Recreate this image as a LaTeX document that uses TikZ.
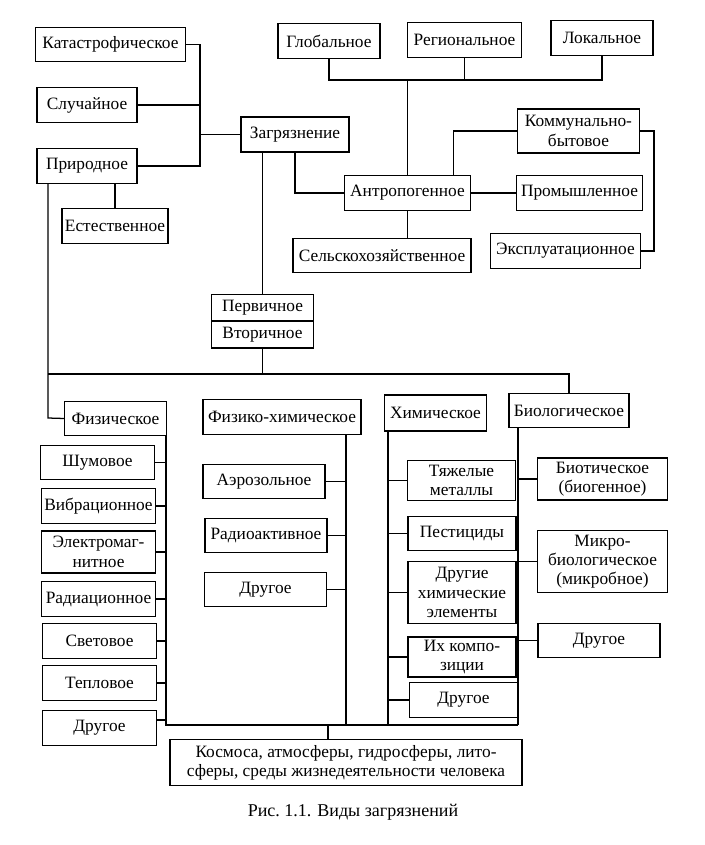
\documentclass[tikz,border=0pt]{standalone}
\usepackage{fontspec}
\setmainfont{Liberation Serif}
\usetikzlibrary{positioning}

\begin{document}
\begin{tikzpicture}[x=0.75pt,y=-0.75pt,line width=0.95pt,
	font=\fontsize{13}{14.5}\selectfont]
	\tikzstyle{box}=[draw=black,align=center,inner sep=1.5pt,minimum height=26pt]
	\tikzstyle{physbox}=[box,minimum width=86pt]
	\tikzstyle{fhbox}=[box,minimum width=91.5pt]
	\tikzstyle{chembox}=[box,minimum width=81pt]
	\tikzstyle{biobox}=[box,minimum width=98pt]
	\useasboundingbox (0,0) rectangle (704,845);

	% top part
	\node[box,minimum width=113pt] (kat) at (110.5,44.5) {Катастрофическое};
	\node[box,minimum width=75pt] (sluch) at (87,105) {Случайное};
	\node[box,minimum width=75pt] (prir) at (87,166) {Природное};
	\node[box,minimum width=79.5pt] (est) at (115,226) {Естественное};
	\node[box,minimum width=81pt,line width=1.6pt] (zagr) at (295,134.5) {Загрязнение};

	\node[box,minimum width=76.5pt] (glob) at (329,41) {Глобальное};
	\node[box,minimum width=86pt] (reg) at (464.5,40) {Региональное};
	\node[box,minimum width=76.5pt] (lok) at (602,38) {Локальное};

	\node[box,minimum width=94pt] (antr) at (407.5,193) {Антропогенное};
	\node[box,minimum width=133.5pt] (sel) at (382,255.5) {Сельскохозяйственное};
	\node[box,minimum width=92pt,minimum height=33pt] (kom) at (578.5,131) {Коммунально-\\бытовое};
	\node[box,minimum width=94pt] (prom) at (579.5,193) {Промышленное};
	\node[box,minimum width=113pt] (expl) at (565.5,251) {Эксплуатационное};

	\node[box,minimum width=76pt,minimum height=19pt] (perv) at (262.5,307.5) {Первичное};
	\node[box,minimum width=76pt,minimum height=20pt] (vtor) [below=0pt of perv] {Вторичное};

	% columns
	\node[box,minimum width=76pt] (fiz) at (115.5,418.5) {Физическое};
	\node[box,minimum width=118.5pt] (fizh) at (282,417) {Физико-химическое};
	\node[box,minimum width=76pt,minimum height=27pt] (him) at (435.5,413) {Химическое};
	\node[box,minimum width=90pt] (bio) at (569,410.5) {Биологическое};

	\node[physbox] (shum) at (97.5,462.5) {Шумовое};
	\node[physbox] (vibr) at (98.5,506) {Вибрационное};
	\node[physbox,minimum height=31.5pt] (elmag) at (98.5,552) {Электромаг-\\нитное};
	\node[physbox] (rad) at (98.5,599) {Радиационное};
	\node[physbox] (svet) at (99.5,641) {Световое};
	\node[physbox] (tepl) at (99.5,683) {Тепловое};
	\node[physbox] (drf) at (99.5,728) {Другое};

	\node[fhbox] (aer) at (264,481.5) {Аэрозольное};
	\node[fhbox] (radakt) at (266,535.5) {Радиоактивное};
	\node[fhbox] (drfh) at (265.5,589.5) {Другое};

	\node[chembox,minimum height=30.5pt] (tyazh) at (461.5,480.5) {Тяжелые\\металлы};
	\node[chembox] (pest) at (462,533.5) {Пестициды};
	\node[chembox,minimum height=46pt] (drel) at (462,592.5) {Другие\\химические\\элементы};
	\node[chembox,minimum height=30pt] (komp) at (462,657) {Их компо-\\зиции};
	\node[chembox] (drh) at (463.5,700) {Другое};

	\node[biobox,minimum height=31.5pt] (biot) at (602.5,479) {Биотическое\\(биогенное)};
	\node[biobox,minimum height=47pt] (mikro) at (602.5,561.5) {Микро-\\биологическое\\(микробное)};
	\node[box,minimum width=91.5pt] (drb) at (599,640.5) {Другое};

	\node[box,minimum width=264pt,minimum height=35pt] (kosm) at (346,762.5)
		{Космоса, атмосферы, гидросферы, лито-\\сферы, среды жизнедеятельности человека};
	\node[font=\fontsize{13.5}{15}\selectfont] (cap) at (353,812) {Рис.~1.1. Виды загрязнений};

	% junctions
	\coordinate (jl) at (200,0);
	\coordinate (tb) at (0,80);
	\coordinate (kex) at (654,0);
	\coordinate (jp) at (48,418);
	\coordinate (bus) at (0,374);
	\coordinate (fizl) at (166,0);
	\coordinate (fxl) at (346,0);
	\coordinate (hil) at (388,0);
	\coordinate (bil) at (518,0);
	\coordinate (bb) at (0,725);
	\coordinate (kj) at (328,725);

	% connectors
	\draw (kat.east) -| (jl |- prir.east) -- (prir.east);
	\draw (sluch.east) -- (sluch.east -| jl);
	\draw (zagr.west) -- (zagr.west -| jl);
	\draw (est.north) -- (est.north |- prir.south);
	\draw (prir.south -| jp) -- (jp) -- (fiz.west);

	\draw (glob.south) |- (lok.south |- tb) -- (lok.south);
	\draw (reg.south) -- (reg.south |- tb);
	\draw (antr.north) -- (antr.north |- tb);
	\draw (zagr.south) |- (antr.west);
	\draw ([xshift=-13pt]antr.north east) |- (kom.west);
	\draw (antr.east) -- (prom.west);
	\draw (antr.south) -- (antr.south |- sel.north);
	\draw (kom.east) -- (kom.east -| kex) |- (expl.east);

	\draw (perv.north) -- (perv.north |- zagr.south);
	\draw (vtor.south) -- (vtor.south |- bus);
	\draw (jp |- bus) -- (bio.north |- bus) -- (bio.north);

	\draw (fiz.south -| fizl) -- (fizl |- bb) -- (bil |- bb);
	\draw (fizh.south -| fxl) -- (fxl |- bb);
	\draw (him.south -| hil) -- (hil |- bb);
	\draw (bio.south -| bil) -- (bil |- bb);
	\draw (kj) -- (kj |- kosm.north);

	\foreach \n in {shum,vibr,elmag,rad,svet,tepl}
		\draw (\n.east) -- (\n.east -| fizl);
	\draw ([yshift=6pt]drf.east) -- ([yshift=6pt]drf.east -| fizl);
	\foreach \n in {aer,radakt,drfh}
		\draw (\n.east) -- (\n.east -| fxl);
	\foreach \n in {tyazh,pest,drel,komp,drh}
		\draw (\n.west) -- (\n.west -| hil);
	\foreach \n in {biot,mikro,drb}
		\draw (\n.west) -- (\n.west -| bil);
\end{tikzpicture}
\end{document}
